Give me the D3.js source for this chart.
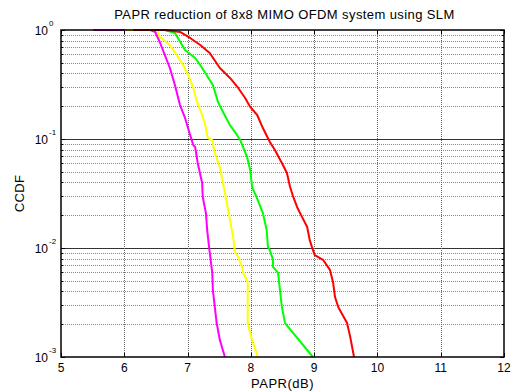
<!DOCTYPE html>
<html><head><meta charset="utf-8">
<script src="https://cdn.jsdelivr.net/npm/d3@7"></script>
<style>
body{margin:0;background:#fff;}
text{font-family:"Liberation Sans",Arial,sans-serif;fill:#000;}
</style></head><body>
<svg id="chart" width="512" height="392"></svg>
<script>
// ---- data ----
const title = "PAPR reduction of 8x8 MIMO OFDM system using SLM";
const xLabel = "PAPR(dB)";
const yLabel = "CCDF";
const xTicks = [5,6,7,8,9,10,11,12];
const yExponents = [0,-1,-2,-3];
const seriesColors = ["#ff00ff","#ffff00","#00ff00","#ff0000"];

const magentaX = [5.51,6.41,6.49,6.56,6.64,6.72,6.80,6.88,6.96,7.04,7.09,7.12,7.16,7.23,7.24,7.29,7.31,7.34,7.39,7.40,7.43,7.46,7.51,7.59];
const magentaY = [1,1,0.959,0.776,0.590,0.448,0.313,0.205,0.156,0.109,0.088,0.0845,0.0603,0.0395,0.0294,0.0209,0.0146,0.0102,0.0059,0.0041,0.00288,0.00205,0.00143,0.001];

const yellowX = [6.01,6.52,6.56,6.72,6.83,6.93,7.01,7.09,7.15,7.23,7.28,7.32,7.39,7.43,7.51,7.56,7.62,7.67,7.72,7.75,7.80,7.86,7.88,7.95,7.95,8.02,8.11];
const yellowY = [1,1,0.863,0.729,0.590,0.477,0.387,0.294,0.219,0.166,0.134,0.102,0.098,0.0744,0.0553,0.0395,0.0259,0.0181,0.0126,0.0092,0.0083,0.0067,0.0059,0.0049,0.00205,0.00143,0.001];

const greenX = [6.14,6.64,6.80,6.96,7.12,7.20,7.28,7.40,7.48,7.56,7.67,7.78,7.83,7.94,7.99,8.02,8.11,8.19,8.25,8.27,8.30,8.35,8.35,8.43,8.46,8.49,8.54,8.98];
const greenY = [1,1,0.939,0.655,0.554,0.477,0.403,0.313,0.219,0.177,0.134,0.109,0.098,0.0684,0.0520,0.0363,0.0275,0.0209,0.0146,0.0102,0.0096,0.0078,0.0067,0.0059,0.0041,0.00288,0.00205,0.001];

const redX = [6.14,6.64,6.88,7.04,7.20,7.35,7.51,7.67,7.80,7.91,7.99,8.10,8.19,8.30,8.38,8.49,8.57,8.62,8.67,8.73,8.81,8.89,8.93,8.98,9.01,9.14,9.25,9.30,9.33,9.38,9.52,9.57,9.63];
const redY = [1,1,0.959,0.845,0.729,0.615,0.448,0.363,0.294,0.238,0.197,0.166,0.126,0.094,0.0793,0.0603,0.0488,0.0363,0.0294,0.0238,0.0192,0.0156,0.0118,0.0096,0.0086,0.0078,0.0063,0.0048,0.00355,0.00288,0.00205,0.00153,0.001];

const series = [
  {x: magentaX, y: magentaY, color: seriesColors[0]},
  {x: yellowX, y: yellowY, color: seriesColors[1]},
  {x: greenX, y: greenY, color: seriesColors[2]},
  {x: redX, y: redY, color: seriesColors[3]}
];

// ---- layout ----
const L = 61, R = 504, T = 30, B = 357;
const svg = d3.select("#chart");
const x = d3.scaleLinear().domain([5,12]).range([L,R]);
const y = d3.scaleLog().domain([1e-3,1]).range([B,T]);

// grid
const g = svg.append("g");
const minorY = [];
for (let e=-3; e<0; e++) for (let m=2; m<=9; m++) minorY.push(m*Math.pow(10,e));
g.selectAll(".ymin").data(minorY).enter().append("line")
  .attr("x1",L).attr("x2",R)
  .attr("y1",d=>Math.round(y(d))+0.5).attr("y2",d=>Math.round(y(d))+0.5)
  .attr("stroke","#888").attr("stroke-width",1).attr("stroke-dasharray","1,1");
g.selectAll(".ymaj").data(yExponents.slice(1,3)).enter().append("line")
  .attr("x1",L).attr("x2",R)
  .attr("y1",d=>Math.round(y(Math.pow(10,d)))+0.5).attr("y2",d=>Math.round(y(Math.pow(10,d)))+0.5)
  .attr("stroke","#333").attr("stroke-width",1);
g.selectAll(".xmaj").data(xTicks.slice(1,-1)).enter().append("line")
  .attr("y1",T).attr("y2",B)
  .attr("x1",d=>Math.round(x(d))+0.5).attr("x2",d=>Math.round(x(d))+0.5)
  .attr("stroke","#666").attr("stroke-width",1).attr("stroke-dasharray","1,1");

// ticks (inward, all sides)
const tk = svg.append("g").attr("stroke","#000").attr("stroke-width",1);
xTicks.forEach(v=>{
  const px = Math.round(x(v))+0.5;
  tk.append("line").attr("x1",px).attr("x2",px).attr("y1",B).attr("y2",B-4);
  tk.append("line").attr("x1",px).attr("x2",px).attr("y1",T).attr("y2",T+4);
});
minorY.forEach(v=>{
  const py = Math.round(y(v))+0.5;
  tk.append("line").attr("x1",L).attr("x2",L+2).attr("y1",py).attr("y2",py);
  tk.append("line").attr("x1",R).attr("x2",R-2).attr("y1",py).attr("y2",py);
});
yExponents.forEach(e=>{
  const py = Math.round(y(Math.pow(10,e)))+0.5;
  tk.append("line").attr("x1",L).attr("x2",L+4).attr("y1",py).attr("y2",py);
  tk.append("line").attr("x1",R).attr("x2",R-4).attr("y1",py).attr("y2",py);
});

// curves
const line = d3.line().x(d=>x(d[0])).y(d=>y(d[1]));
series.forEach(s=>{
  const pts = s.x.map((v,i)=>[v,s.y[i]]);
  svg.append("path").datum(pts).attr("d",line)
    .attr("fill","none").attr("stroke",s.color).attr("stroke-width",2)
    .attr("stroke-linejoin","round");
});

// box
svg.append("rect").attr("x",L).attr("y",T).attr("width",R-L).attr("height",B-T)
  .attr("fill","none").attr("stroke","#000").attr("stroke-width",1.5);

// x tick labels
svg.selectAll(".xl").data(xTicks).enter().append("text")
  .attr("x",d=>x(d)).attr("y",372).attr("text-anchor","middle")
  .attr("font-size",12).text(d=>d);

// y tick labels
yExponents.forEach(e=>{
  const py = y(Math.pow(10,e));
  svg.append("text").attr("x",48).attr("y",py+5).attr("text-anchor","end").attr("font-size",12).text("10");
  svg.append("text").attr("x",49).attr("y",py-4).attr("font-size",8).text(e);
});

// labels
svg.append("text").attr("x",(L+R)/2+2).attr("y",19).attr("text-anchor","middle")
  .attr("font-size",13).attr("letter-spacing",0.4).text(title);
svg.append("text").attr("x",(L+R)/2).attr("y",388).attr("text-anchor","middle")
  .attr("font-size",13).attr("letter-spacing",0.5).text(xLabel);
svg.append("text").attr("transform",`translate(24,${(T+B)/2}) rotate(-90)`).attr("text-anchor","middle")
  .attr("font-size",13).attr("letter-spacing",0.4).text(yLabel);
</script>
</body></html>
